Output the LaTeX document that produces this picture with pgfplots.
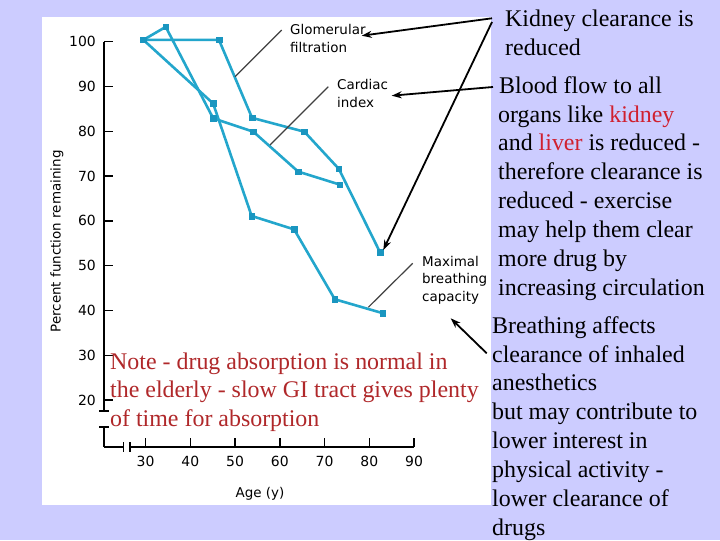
\documentclass[border=0pt]{standalone}
\usepackage{pgfplots}
\pgfplotsset{compat=1.18}
\usepackage{fontspec}
\setmainfont{Liberation Serif}
\newfontfamily\dejavu{DejaVu Sans}
\usetikzlibrary{arrows.meta}
\definecolor{bg}{HTML}{CCCCFF}
\definecolor{ser}{HTML}{23A6CC}
\definecolor{mk}{HTML}{1A96C0}
\definecolor{notered}{HTML}{B0282A}
\definecolor{hl}{HTML}{D0202F}
\definecolor{lead}{HTML}{404040}
\pgfplotsset{myser/.style={color=ser, line width=2.6bp, mark=square*, mark size=2.8bp,
    mark options={fill=mk, draw=mk, line width=0.5bp}}}
\begin{document}
\begin{tikzpicture}[x=1bp,y=1bp]
\fill[bg] (0,0) rectangle (720,540);
\fill[white] (42,35) rectangle (491,523);
\begin{axis}[at={(104bp,93bp)}, anchor=south west, scale only axis,
  width=310bp, height=405.3bp,
  xmin=20.7, xmax=90, ymin=9.53, ymax=100, clip=false,
  axis lines=left, axis line style={-, line width=1.8bp, black},
  xtick={30,40,...,90}, ytick={20,30,...,100},
  tick align=inside, major tick length=9bp,
  tick style={line width=1.5bp, black},
  tick label style={font=\dejavu\fontsize{14}{16}\selectfont},
  /pgf/number format/assume math mode=true,
  yticklabel style={anchor=east, inner sep=0pt, xshift=-8bp},
  xticklabel style={anchor=north, inner sep=0pt, yshift=-9bp},
]
% Glomerular filtration
\addplot[myser] coordinates {(29.5,100.4)(46.4,100.4)(53.8,83.0)(65.5,79.9)(73.2,71.6)(82.4,53.0)};
% Cardiac index
\addplot[myser] coordinates {(29.5,100.4)(34.5,103.3)(45.1,82.9)(54.1,79.9)(64.1,71.0)(73.4,68.1)};
% Maximal breathing capacity
\addplot[myser] coordinates {(29.5,100.4)(45.1,86.2)(53.7,61.1)(63.2,58.1)(72.3,42.5)(83.0,39.4)};
\end{axis}
% axis breaks
\fill[white] (97,114) rectangle (111,128);
\draw[line width=1.5bp] (99,129)--(109,129) (99,113)--(109,113);
\fill[white] (124.3,90) rectangle (129,96);
\draw[line width=1.5bp] (123.3,88)--(123.3,98.3) (130,88)--(130,98.3);
% axis labels
\node[font=\dejavu\fontsize{13.5}{15}\selectfont] at (260,46) {Age (y)};
\node[font=\dejavu\fontsize{13.5}{15}\selectfont, rotate=90] at (57,298.5) {Percent function remaining};
% series labels
\begin{scope}[every node/.style={anchor=base west, inner sep=0pt, font=\dejavu\fontsize{13.5}{15}\selectfont}]
\node at (290,505) {Glomerular};
\node at (290,487.7) {filtration};
\node at (337,450) {Cardiac};
\node at (337,432.7) {index};
\node at (422,273.3) {Maximal};
\node at (422,256.7) {breathing};
\node at (422,238.3) {capacity};
\end{scope}
\draw[lead, line width=1.2bp] (235,463.3)--(281.7,510);
\draw[lead, line width=1.2bp] (270,395)--(328.3,453.3);
\draw[lead, line width=1.2bp] (368.3,232.7)--(412.7,276.7);
% arrows
\begin{scope}[line width=1.8bp, -{Stealth[length=10bp,width=7bp]}]
\draw (492,521.7)--(361.7,504.3);
\draw (492,518)--(383.3,290);
\draw (493,453)--(391.7,444.3);
\draw (486.7,186.7)--(450.7,221.7);
\end{scope}
% red note
\begin{scope}[every node/.style={anchor=base west, inner sep=0pt, font=\fontsize{24}{28}\selectfont, text=notered}]
\node at (110,170.5) {Note - drug absorption is normal in};
\node at (110,142) {the elderly - slow GI tract gives plenty};
\node at (110,113.5) {of time for absorption};
\end{scope}
% right text
\begin{scope}[every node/.style={anchor=base west, inner sep=0pt, font=\fontsize{24}{28}\selectfont}]
\node at (505,513) {Kidney clearance is};
\node at (505,484) {reduced};
\node at (499,446.3) {Blood flow to all};
\node at (498,417.3) {organs like \textcolor{hl}{kidney}};
\node at (498,389.3) {and \textcolor{hl}{liver} is reduced -};
\node at (498,360.3) {therefore clearance is};
\node at (498,331.3) {reduced - exercise};
\node at (498,302.3) {may help them clear};
\node at (498,273.3) {more drug by};
\node at (498,244.3) {increasing circulation};
\node at (492,206.3) {Breathing affects};
\node at (492,177.3) {clearance of inhaled};
\node at (492,149.3) {anesthetics};
\node at (492,120.3) {but may contribute to};
\node at (492,91.3) {lower interest in};
\node at (492,62.3) {physical activity -};
\node at (492,33.3) {lower clearance of};
\node at (492,4.3) {drugs};
\end{scope}
\end{tikzpicture}
\end{document}
